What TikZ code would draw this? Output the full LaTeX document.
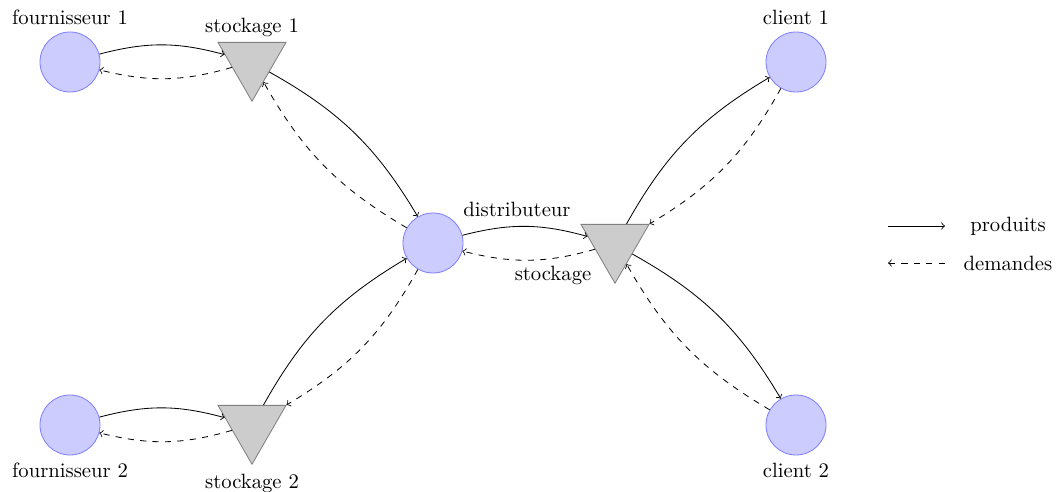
\documentclass[tikz,border=0pt]{standalone}
\usetikzlibrary{shapes.geometric}
\begin{document}
\begin{tikzpicture}[x=0.017cm,y=-0.017cm,
  site/.style={circle,draw=blue!50,fill=blue!20,minimum size=1.02cm,inner sep=0pt},
  depot/.style={regular polygon,regular polygon sides=3,shape border rotate=180,draw=gray,fill=gray!40,minimum size=1.335cm,inner sep=0pt},
  flow/.style={->,bend left=15},
  demand/.style={->,dashed,bend left=15}]
\useasboundingbox (0,0) rectangle (1058,492);
\node[site,label={above:fournisseur 1}] (f1) at (70,62) {};
\node[site,label={below:fournisseur 2}] (f2) at (70,425) {};
\node[site] (d) at (433,243) {};
\node[site,label={above:client 1}] (c1) at (796,62) {};
\node[site,label={below:client 2}] (c2) at (796,425) {};
\node[depot,label={[label distance=-1pt]above:stockage 1}] (s1) at (252,62) {};
\node[depot,label={[label distance=1pt]below:stockage 2}] (s2) at (252,425) {};
\node[depot] (s) at (615,244) {};
\node (ld) at (517,209) {distributeur};
\node (ls) at (553,275) {stockage};
% flows
\draw[flow] (f1) to (s1);
\draw[demand] (s1) to (f1);
\draw[flow] (f2) to (s2);
\draw[demand] (s2) to (f2);
\draw[flow] (s1) to (d);
\draw[demand] (d) to (s1);
\draw[flow] (s2) to (d);
\draw[demand] (d) to (s2);
\draw[flow] (d) to (s);
\draw[demand] (s) to (d);
\draw[flow] (s) to (c1);
\draw[demand] (c1) to (s);
\draw[flow] (s) to (c2);
\draw[demand] (c2) to (s);
% legend
\coordinate (la1) at (888,226);
\coordinate (la2) at (945,226);
\coordinate (lb1) at (888,263);
\coordinate (lb2) at (945,263);
\node (lp) at (1008,226) {produits};
\node (lq) at (1008,263) {demandes};
\draw[->] (la1) -- (la2);
\draw[<-,dashed] (lb1) -- (lb2);
\end{tikzpicture}
\end{document}
